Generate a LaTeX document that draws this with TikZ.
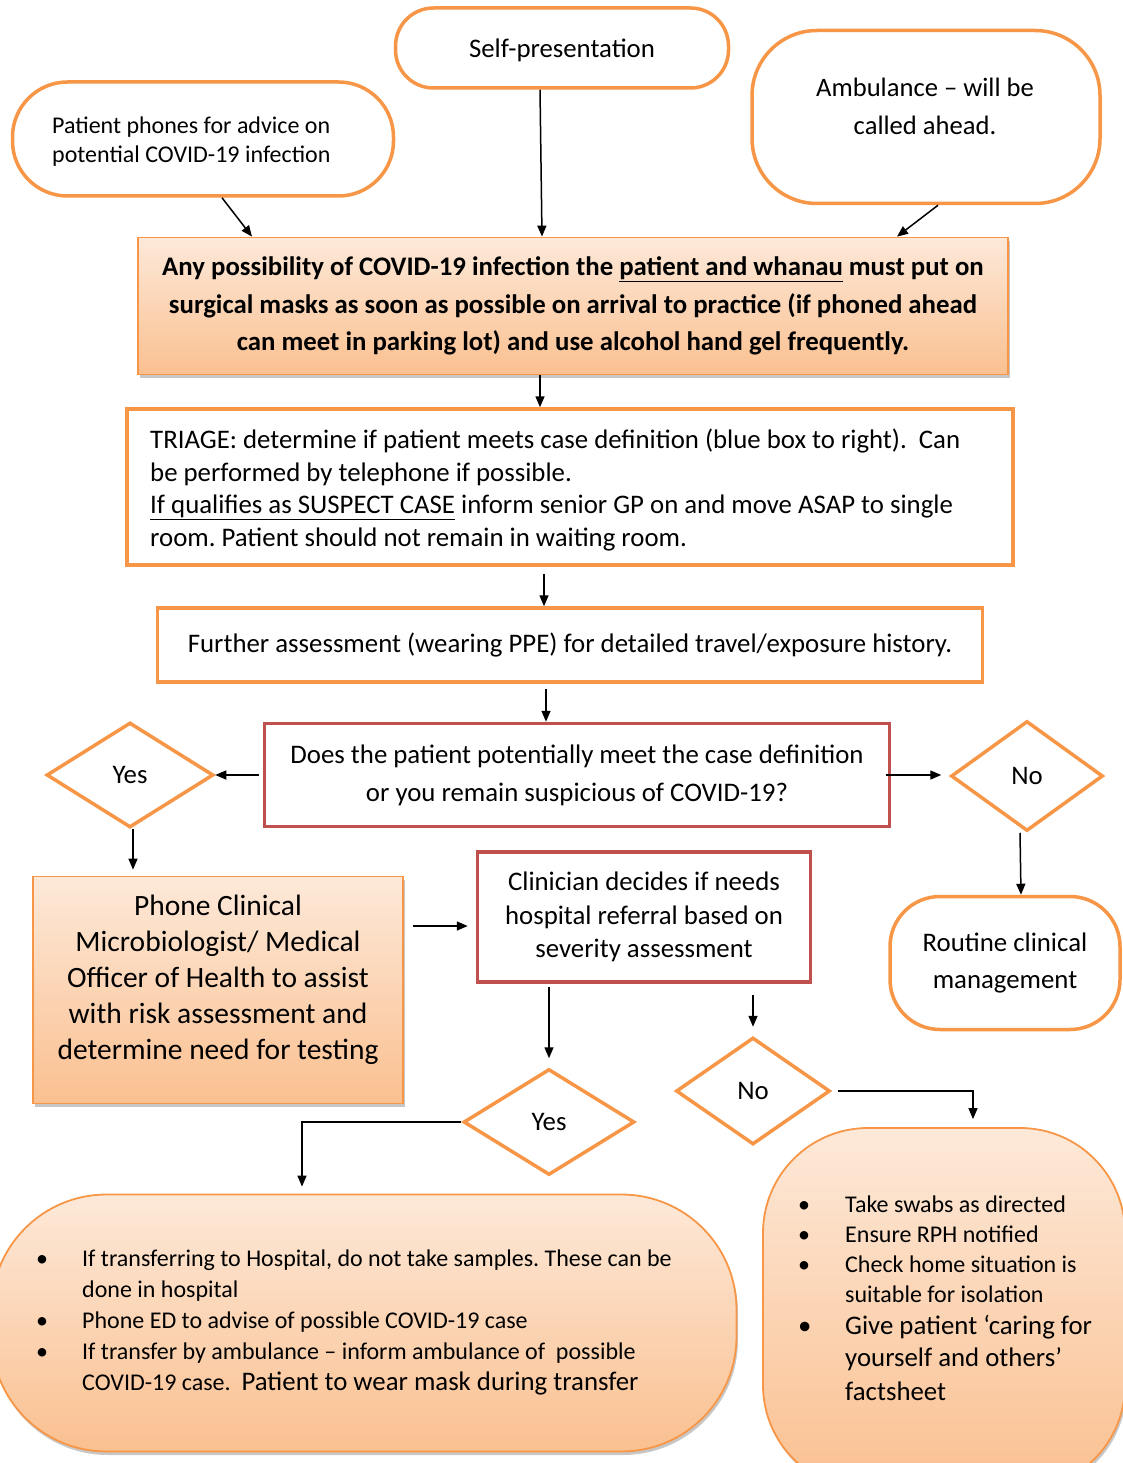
\documentclass[tikz,border=0pt]{standalone}
\usepackage{fontspec}
\setmainfont{Carlito}
\usetikzlibrary{shapes.geometric,arrows.meta,shadows,calc}
\definecolor{orln}{HTML}{F79646}
\definecolor{redln}{HTML}{C0504D}
\definecolor{gtop}{HTML}{FDE9D9}
\definecolor{gbot}{HTML}{FAC090}
\frenchspacing
\begin{document}
\begin{tikzpicture}[x=1pt,y=-1pt,
  term/.style={draw=orln,line width=3.5pt,fill=white,rounded corners=#1,inner sep=0pt,align=center},
  wbox/.style={draw=orln,line width=3.5pt,fill=white,inner sep=0pt,align=center},
  rbox/.style={draw=redln,line width=3.5pt,fill=white,inner sep=0pt,align=center},
  gshade/.style={draw=orln,line width=1.8pt,top color=gtop,bottom color=gbot,inner sep=0pt,align=center,
    drop shadow={shadow xshift=1.5pt,shadow yshift=-3.5pt,fill=black,opacity=0.22}},
  dia/.style={diamond,draw=orln,line width=3.5pt,fill=white,inner sep=0pt,font=\fontsize{26.8}{30}\selectfont},
  arr/.style={line width=1.5pt,-{Triangle[length=11pt,width=9pt]}},
  txt/.style={inner sep=0pt,align=center}]
\useasboundingbox (0,0) rectangle (1122,1463);

% top terminals
\node[term=38pt,minimum width=333pt,minimum height=80pt] (self) at (562,48) {};
\node[txt,font=\fontsize{26.8}{30}\selectfont] (selft) at (562,50) {Self-presentation};
\node[term=55pt,minimum width=381pt,minimum height=114pt] (phones) at (203,139) {};
\node[txt,anchor=west,align=left,font=\fontsize{24}{29}\selectfont] (phonest) at (52,142) {Patient phones for advice on\\potential COVID-19 infection};
\node[term=65pt,minimum width=348pt,minimum height=173pt] (amb) at (926,117) {};
\node[txt,font=\fontsize{26.6}{38}\selectfont] (ambt) at (925,106) {Ambulance – will be\\called ahead.};

% main
\node[gshade,minimum width=870pt,minimum height=137pt,font=\bfseries\fontsize{26.8}{37.5}\selectfont] (main) at (573,306)
 {Any possibility of COVID-19 infection the \underline{patient and whanau} must put on\\surgical masks as soon as possible on arrival to practice (if phoned ahead\\can meet in parking lot) and use alcohol hand gel frequently.};

% triage
\node[wbox,minimum width=886pt,minimum height=156pt] (triage) at (570,487) {};
\node[txt,anchor=west,align=left,font=\fontsize{26.8}{32.5}\selectfont] (triaget) at (150,490)
 {TRIAGE: determine if patient meets case definition (blue box to right).\ \ Can\\be performed by telephone if possible.\\\underline{If qualifies as SUSPECT CASE} inform senior GP on and move ASAP to single\\room. Patient should not remain in waiting room.};

\node[wbox,minimum width=825pt,minimum height=74pt,font=\fontsize{26.8}{30}\selectfont] (further) at (570,645)
 {Further assessment (wearing PPE) for detailed travel/exposure history.};

\node[rbox,minimum width=625pt,minimum height=103pt,font=\fontsize{26.8}{38}\selectfont] (does) at (577,775)
 {Does the patient potentially meet the case definition\\or you remain suspicious of COVID-19?};

\node[dia,minimum width=167pt,minimum height=105pt] (yes1) at (130,775) {Yes};
\node[dia,minimum width=152pt,minimum height=110pt] (no1) at (1027,776) {No};

\node[gshade,minimum width=370pt,minimum height=227pt] (phone) at (218,990) {};
\node[txt,font=\fontsize{29.5}{36}\selectfont] (phonet) at (218,980)
 {Phone Clinical\\Microbiologist/ Medical\\Officer of Health to assist\\with risk assessment and\\determine need for testing};

\node[rbox,minimum width=333pt,minimum height=130pt,font=\fontsize{26.8}{33.5}\selectfont] (clin) at (644,917)
 {Clinician decides if needs\\hospital referral based on\\severity assessment};

\node[term=50pt,minimum width=230pt,minimum height=133pt,font=\fontsize{26.8}{37}\selectfont] (routine) at (1005,963)
 {Routine clinical\\management};

\node[dia,minimum width=171pt,minimum height=106pt] (yes2) at (549,1122) {Yes};
\node[dia,minimum width=154pt,minimum height=107pt] (no2) at (753,1091) {No};

% bottom boxes
\node[gshade,rounded corners=115pt,minimum width=745pt,minimum height=257pt] (botL) at (364,1323) {};
\node[inner sep=0pt,anchor=west,font=\fontsize{24}{31}\selectfont] (botLt) at (36,1322)
 {\begin{tabular}{@{}p{46pt}@{}l@{}}
 • & If transferring to Hospital, do not take samples. These can be\\
   & done in hospital\\
 • & Phone ED to advise of possible COVID-19 case\\
 • & If transfer by ambulance – inform ambulance of \ possible\\
   & COVID-19 case.\ \ {\fontsize{26.8}{31}\selectfont Patient to wear mask during transfer}
 \end{tabular}};

\node[gshade,rounded corners=105pt,minimum width=362pt,minimum height=362pt] (botR) at (944,1309) {};
\node[inner sep=0pt,anchor=west,font=\fontsize{24}{30}\selectfont] (botRt) at (798,1300)
 {\begin{tabular}{@{}p{47pt}@{}l@{}}
 • & Take swabs as directed\\
 • & Ensure RPH notified\\
 • & Check home situation is\\
   & suitable for isolation\\[2pt]
 {\fontsize{26.8}{32}\selectfont •} & {\fontsize{26.8}{32}\selectfont Give patient ‘caring for}\\[2pt]
   & {\fontsize{26.8}{32}\selectfont yourself and others’}\\[4pt]
   & {\fontsize{26.8}{32}\selectfont factsheet}
 \end{tabular}};

% connectors
\draw[arr] ([xshift=19pt]phones.south) -- ([xshift=-321pt]main.north);
\draw[arr] ([xshift=-22pt]self.south) -- ([xshift=-31pt]main.north);
\draw[arr] ([xshift=12pt]amb.south) -- ([xshift=324pt]main.north);
\draw[arr] ([xshift=-33pt]main.south) -- ([xshift=-30pt]triage.north);
\draw[arr] ([xshift=-26pt,yshift=-7pt]triage.south) -- ([xshift=-26pt]further.north);
\draw[arr] ([xshift=-24pt,yshift=-5pt]further.south) -- ([xshift=-31pt]does.north);
\draw[arr] ([xshift=-4pt]does.west) -- (does.west -| yes1.east);
\draw[arr,shorten >=8pt] ([xshift=-5pt]does.east) -- (does.east -| no1.west);
\draw[arr] ([xshift=3pt]yes1.south) -- ([xshift=-85pt,yshift=6pt]phone.north);
\draw[arr] ([xshift=-7pt]no1.south) -- ([xshift=16pt]routine.north);
\draw[arr] ([xshift=9pt,yshift=64pt]phone.east) -- ([xshift=-8pt,yshift=-9pt]clin.west);
\draw[arr] ([xshift=-95pt,yshift=-3pt]clin.south) -- ([yshift=9pt]yes2.north);
\draw[arr] ([xshift=109pt,yshift=-11pt]clin.south) -- ([yshift=9pt]no2.north);
\draw[arr] ([xshift=-1pt]yes2.west) -| ([xshift=-62pt,yshift=7pt]botL.north);
\draw[arr] ([xshift=6pt]no2.east) -| ([xshift=29pt,yshift=8pt]botR.north);
\end{tikzpicture}
\end{document}
